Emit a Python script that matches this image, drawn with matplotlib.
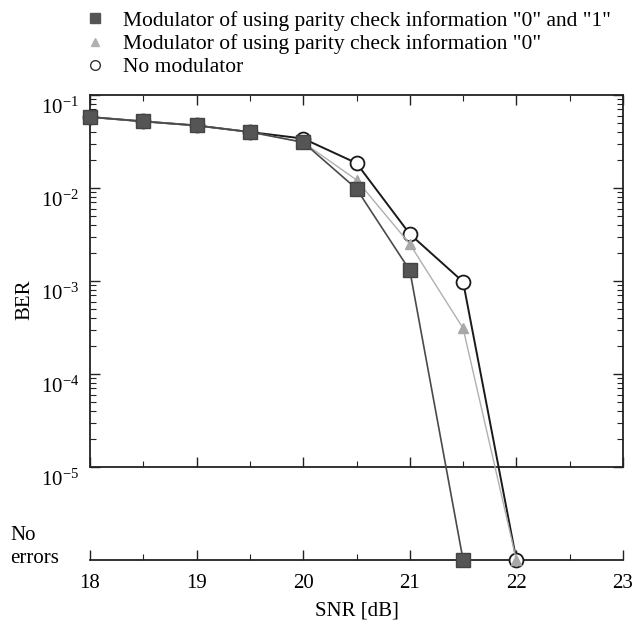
import numpy as np
import matplotlib
matplotlib.use('Agg')
import matplotlib.pyplot as plt
from matplotlib.lines import Line2D
from matplotlib.ticker import FixedLocator, NullFormatter
import matplotlib.transforms as mtransforms

plt.rcParams['font.family'] = ['Liberation Serif', 'DejaVu Serif']
plt.rcParams['mathtext.fontset'] = 'custom'
plt.rcParams['mathtext.rm'] = 'Liberation Serif'
plt.rcParams['mathtext.it'] = 'Liberation Serif:italic'

NO_ERR = 1e-6  # "No errors" row sits one decade below 1e-5

# данные
snr = [18, 18.5, 19, 19.5, 20, 20.5, 21, 21.5, 22]
ber_01 = [0.058, 0.052, 0.047, 0.040, 0.031, 0.0098, 0.0013, NO_ERR]
ber_0 = [0.058, 0.052, 0.047, 0.040, 0.031, 0.0122, 0.0025, 0.00031, NO_ERR]
ber_none = [0.058, 0.052, 0.047, 0.040, 0.034, 0.0185, 0.0032, 0.00098, NO_ERR]

labels = ['Modulator of using parity check information "0" and "1"',
          'Modulator of using parity check information "0"',
          'No modulator']

fig = plt.figure(figsize=(6.37, 6.25), dpi=100)
ax = fig.add_axes([90 / 637, 1 - 560 / 625, 533 / 637, 465 / 625])

ax.plot(snr, ber_none, '-o', color='#1a1a1a', lw=1.4, ms=10,
        mfc='white', mec='#1a1a1a', mew=1.3, clip_on=False, zorder=3)
ax.plot(snr, ber_0, '-^', color='#b0b0b0', lw=1.0, ms=7,
        mfc='#a8a8a8', mec='#a8a8a8', clip_on=False, zorder=4)
ax.plot(snr[:len(ber_01)], ber_01, '-s', color='#4a4a4a', lw=1.2, ms=10,
        mfc='#555555', mec='#444444', clip_on=False, zorder=5)

ax.set_yscale('log')
ax.set_xlim(18, 23)
ax.set_ylim(NO_ERR, 1e-1)

# рамка
ax.spines['left'].set_bounds(1e-5, 1e-1)
ax.spines['right'].set_bounds(1e-5, 1e-1)
for s in ax.spines.values():
    s.set_linewidth(1.3)
    s.set_color('#222222')
ax.axhline(1e-5, color='#222222', lw=1.3, zorder=2)

ax.xaxis.set_major_locator(FixedLocator([18, 19, 20, 21, 22, 23]))
ax.xaxis.set_minor_locator(FixedLocator([18.5, 19.5, 20.5, 21.5, 22.5]))
ax.set_xticklabels(['18', '19', '20', '21', '22', '23'])

dec = [1e-5, 1e-4, 1e-3, 1e-2, 1e-1]
minors = [m * d for d in dec[:-1] for m in range(2, 10)]
ax.yaxis.set_major_locator(FixedLocator(dec))
ax.yaxis.set_minor_locator(FixedLocator(minors))
ax.yaxis.set_minor_formatter(NullFormatter())
ax.set_yticklabels([r'$10^{-5}$', r'$10^{-4}$', r'$10^{-3}$', r'$10^{-2}$', r'$10^{-1}$'])

ax.tick_params(which='both', direction='in', top=True, right=True, color='#222222')
ax.tick_params(which='major', length=7, width=1.0, labelsize=15)
ax.tick_params(which='minor', length=4, width=0.8)
ax.tick_params(axis='x', pad=10)
ax.tick_params(axis='y', pad=8)

off = mtransforms.ScaledTranslation(0, -8 / 72, fig.dpi_scale_trans)
for t in ax.get_yticklabels():
    t.set_transform(t.get_transform() + off)

# ticks on the 1e-5 line
sec = ax.secondary_xaxis(0.2)
sec.xaxis.set_major_locator(FixedLocator([18, 19, 20, 21, 22, 23]))
sec.xaxis.set_minor_locator(FixedLocator([18.5, 19.5, 20.5, 21.5, 22.5]))
sec.tick_params(which='both', direction='in', labelbottom=False, color='#222222')
sec.tick_params(which='major', length=7, width=1.0)
sec.tick_params(which='minor', length=4, width=0.8)
sec.spines['bottom'].set_visible(False)

ax.set_xlabel('SNR [dB]', fontsize=15, labelpad=6)
ax.set_ylabel('BER', fontsize=15)
ax.yaxis.set_label_coords(-0.105, 0.56)

fig.text(10 / 637, 1 - 547 / 625, 'No\nerrors', fontsize=15, ha='left',
         va='center', linespacing=1.25)

handles = [Line2D([], [], ls='', marker='s', ms=7, mfc='#555555', mec='#555555'),
           Line2D([], [], ls='', marker='^', ms=6, mfc='#b0b0b0', mec='#b0b0b0'),
           Line2D([], [], ls='', marker='o', ms=7, mfc='white', mec='#333333')]
fig.legend(handles, labels, loc='upper left', bbox_to_anchor=(72 / 637, 1.0),
           frameon=False, fontsize=15.5, handlelength=1.1, handletextpad=0.75,
           labelspacing=0.15, borderaxespad=0.1)

plt.savefig('out.png', dpi=100)
